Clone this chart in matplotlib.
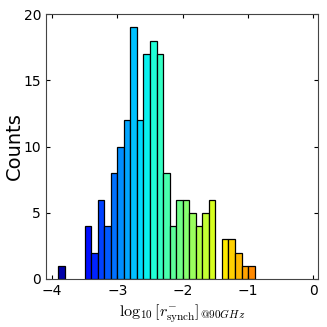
import matplotlib
matplotlib.use("Agg")
import matplotlib.pyplot as plt
import numpy as np

plt.rcParams['mathtext.fontset'] = 'cm'

# left edges of the 0.1-wide bins and their counts
bin_left = [-3.9, -3.5, -3.4, -3.3, -3.2, -3.1, -3.0, -2.9, -2.8, -2.7,
            -2.6, -2.5, -2.4, -2.3, -2.2, -2.1, -2.0, -1.9, -1.8, -1.7,
            -1.6, -1.4, -1.3, -1.2, -1.1, -1.0]
counts = [1, 4, 2, 6, 4, 8, 10, 12, 19, 12,
          17, 18, 17, 8, 4, 6, 6, 5, 4, 5,
          6, 3, 3, 2, 1, 1]

bin_left = np.array(bin_left)
width = 0.1
centers = bin_left + width / 2
colors = plt.cm.jet((centers + 4.0) / 4.0)

fig = plt.figure(figsize=(3.27, 3.27), dpi=100)
ax = fig.add_axes([46 / 327, 48 / 327, 272 / 327, 265 / 327])
ax.bar(bin_left, counts, width=width, align='edge', color=colors,
       edgecolor='black', linewidth=0.9)

ax.set_xlim(-4.09, 0.07)
ax.set_ylim(0, 20)
ax.set_xticks([-4, -3, -2, -1, 0])
ax.set_yticks([0, 5, 10, 15, 20])
ax.tick_params(direction='in', top=True, right=True, labelsize=10, length=3)
ax.set_xticklabels(['\u22124', '\u22123', '\u22122', '\u22121', '0'])
ax.set_ylabel('Counts', fontsize=14, labelpad=0)
ax.set_xlabel(r'$\log_{10}[r^{-}_{\rm synch}]_{@90GHz}$', fontsize=11.5, labelpad=3)
for s in ax.spines.values():
    s.set_color('#444444')

fig.savefig('out.png', dpi=100)
